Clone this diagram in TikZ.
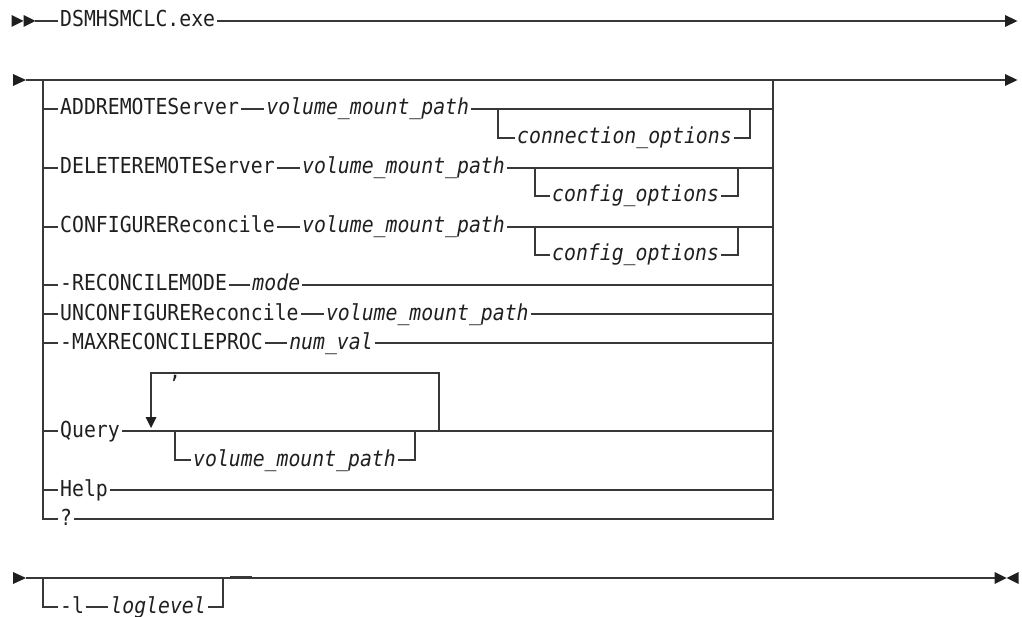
\documentclass[tikz,border=0pt]{standalone}
\usepackage{fontspec}
\setmonofont{DejaVu Sans Mono}[FakeStretch=0.9]
\usetikzlibrary{positioning}

\newcommand\railfont{\fontsize{22}{26}\selectfont\ttfamily}

\begin{document}
\begin{tikzpicture}[x=1pt,y=-1pt,
  rail/.style={line width=1.1pt, draw=black!78},
  tip/.style={fill=black!88},
  kw/.style={inner xsep=2pt, inner ysep=0pt, text height=12pt, text depth=0pt,
    text=black!88, font=\railfont},
  var/.style={kw, font=\railfont\itshape}]
 \useasboundingbox (0,0) rectangle (1022,617);

 % first line
 \node[kw, anchor=west] (exe) at (58,21) {DSMHSMCLC.exe};
 \coordinate (s1) at (35,21);
 \coordinate (e1) at (1005,21);
 \fill[tip] (11.5,15) -- (23.5,21) -- (11.5,27) -- cycle;
 \fill[tip] (23.5,15) -- (35.5,21) -- (23.5,27) -- cycle;
 \draw[rail] (s1) -- (exe.west);
 \draw[rail] (exe.east) -- (e1);
 \fill[tip] (1005,15) -- (1017.5,21) -- (1005,27) -- cycle;

 % second line with the choice stack
 \coordinate (s2) at (26,80);
 \coordinate (L) at (43,80);
 \coordinate (R) at (773,80);
 \coordinate (e2) at (1005,80);
 \fill[tip] (13,74) -- (26,80) -- (13,86) -- cycle;
 \draw[rail] (s2) -- (e2);
 \fill[tip] (1005,74) -- (1017.5,80) -- (1005,86) -- cycle;

 \node[kw, anchor=west] (add) at (58,109) {ADDREMOTEServer};
 \node[var, right=23pt of add] (addpath) {volume\_mount\_path};
 \node[var, anchor=west] (conn) at (515,138) {connection\_options};
 \coordinate (addl) at (498,109);
 \coordinate (addr) at (750,109);

 \node[kw, anchor=west] (del) at (58,168) {DELETEREMOTEServer};
 \node[var, right=23pt of del] (delpath) {volume\_mount\_path};
 \node[var, anchor=west] (delcfg) at (550,196) {config\_options};
 \coordinate (dell) at (535,168);
 \coordinate (delr) at (738,168);

 \node[kw, anchor=west] (conf) at (58,227) {CONFIGUREReconcile};
 \node[var, right=23pt of conf] (confpath) {volume\_mount\_path};
 \node[var, anchor=west] (confcfg) at (550,255) {config\_options};
 \coordinate (confl) at (535,227);
 \coordinate (confr) at (738,227);

 \node[kw, anchor=west] (rmode) at (58,285) {-RECONCILEMODE};
 \node[var, right=21pt of rmode] (mode) {mode};

 \node[kw, anchor=west] (unconf) at (58,314) {UNCONFIGUREReconcile};
 \node[var, right=23pt of unconf] (unconfpath) {volume\_mount\_path};

 \node[kw, anchor=west] (maxproc) at (58,343) {-MAXRECONCILEPROC};
 \node[var, right=22pt of maxproc] (numval) {num\_val};

 \node[kw, anchor=west] (query) at (58,431) {Query};
 \node[var, anchor=west] (qpath) at (191,460) {volume\_mount\_path};
 \node[kw, anchor=west] (comma) at (167,372.5) {,};
 \coordinate (ql) at (175,431);
 \coordinate (qr) at (415,431);
 \coordinate (loopr) at (439,431);
 \coordinate (loopt) at (151,373);
 \coordinate (loopd) at (151,418);

 \node[kw, anchor=west] (help) at (58,490) {Help};
 \node[kw, anchor=west] (qm) at (58,519) {?};

 \draw[rail] (L) |- (qm.west);
 \draw[rail] (qm.east) -| (R);
 \foreach \n in {add,del,conf,rmode,unconf,maxproc,query,help}
   \draw[rail] (L |- \n.west) -- (\n.west);
 \draw[rail] (add) -- (addpath);
 \draw[rail] (addpath.east) -- (addpath.east -| R);
 \draw[rail] (addl) |- (conn.west);
 \draw[rail] (conn.east) -| (addr);
 \draw[rail] (del) -- (delpath);
 \draw[rail] (delpath.east) -- (delpath.east -| R);
 \draw[rail] (dell) |- (delcfg.west);
 \draw[rail] (delcfg.east) -| (delr);
 \draw[rail] (conf) -- (confpath);
 \draw[rail] (confpath.east) -- (confpath.east -| R);
 \draw[rail] (confl) |- (confcfg.west);
 \draw[rail] (confcfg.east) -| (confr);
 \draw[rail] (rmode) -- (mode);
 \draw[rail] (mode.east) -- (mode.east -| R);
 \draw[rail] (unconf) -- (unconfpath);
 \draw[rail] (unconfpath.east) -- (unconfpath.east -| R);
 \draw[rail] (maxproc) -- (numval);
 \draw[rail] (numval.east) -- (numval.east -| R);
 \draw[rail] (query.east) -- (query.east -| R);
 \draw[rail] (ql) |- (qpath.west);
 \draw[rail] (qpath.east) -| (qr);
 \draw[rail] (loopr) |- (loopt) -- (loopd);
 \fill[tip] (145.5,417) -- (156.5,417) -- (151,428) -- cycle;
 \draw[rail] (help.east) -- (help.east -| R);

 % third line
 \coordinate (s3) at (26,578);
 \coordinate (L3) at (43,578);
 \coordinate (R3) at (223,578);
 \coordinate (e3) at (995,578);
 \fill[tip] (13,572) -- (26,578) -- (13,584) -- cycle;
 \draw[rail] (s3) -- (e3);
 \draw[rail, line width=1.6pt] (230,576.5) -- (252,576.5);
 \node[kw, anchor=west] (lflag) at (58,607) {-l};
 \node[var, right=22pt of lflag] (loglevel) {loglevel};
 \draw[rail] (L3) |- (lflag.west);
 \draw[rail] (lflag) -- (loglevel);
 \draw[rail] (loglevel.east) -| (R3);
 \fill[tip] (994.5,572) -- (1006.5,578) -- (994.5,584) -- cycle;
 \fill[tip] (1018.5,572) -- (1006.5,578) -- (1018.5,584) -- cycle;
\end{tikzpicture}
\end{document}
